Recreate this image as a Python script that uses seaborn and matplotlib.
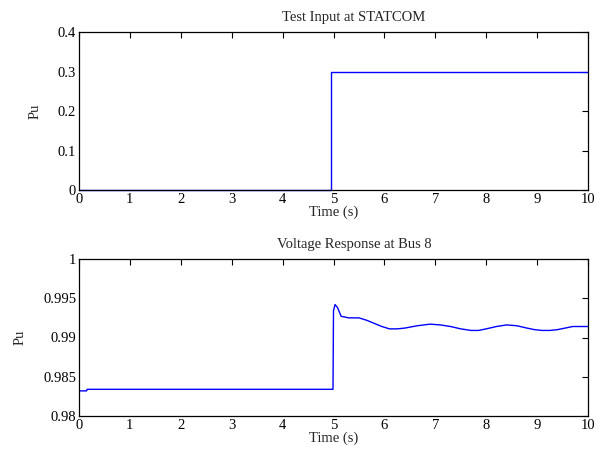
import numpy as np
import matplotlib
matplotlib.use("Agg")
import matplotlib.pyplot as plt
import pandas as pd
import seaborn as sns

# test input (step)
t_in = [0, 4.95, 4.95, 10]
pu_in = [0, 0, 0.3, 0.3]

# voltage response at bus 8
t_v = [0, 0.15, 0.16, 4.99, 5.0, 5.03, 5.08, 5.15, 5.3, 5.5, 5.65, 5.8, 5.95,
       6.1, 6.25, 6.4, 6.65, 6.9, 7.1, 7.3, 7.5, 7.7, 7.85, 8.0, 8.2, 8.4,
       8.6, 8.8, 8.95, 9.1, 9.25, 9.4, 9.55, 9.7, 9.85, 10]
pu_v = [0.9832, 0.9832, 0.9834, 0.9834, 0.9934, 0.9942, 0.9938, 0.9927, 0.9925,
        0.9925, 0.9922, 0.9918, 0.9914, 0.9911, 0.9911, 0.9912, 0.9915, 0.9917,
        0.9916, 0.9914, 0.9911, 0.9909, 0.9909, 0.9911, 0.9914, 0.9916, 0.9915,
        0.9912, 0.9910, 0.9909, 0.9909, 0.9910, 0.9912, 0.9914, 0.9914, 0.9914]

x_ticks = list(range(0, 11))
top_yticks = [0, 0.1, 0.2, 0.3, 0.4]
top_ylabels = ['0', '0.1', '0.2', '0.3', '0.4']
bot_yticks = [0.98, 0.985, 0.99, 0.995, 1.0]
bot_ylabels = ['0.98', '0.985', '0.99', '0.995', '1']

sns.set_style("white")
plt.rcParams['font.family'] = ['Liberation Serif', 'DejaVu Serif']
plt.rcParams['font.size'] = 10.5

fig = plt.figure(figsize=(6.1, 4.55), dpi=100)
ax1 = fig.add_axes([79/610, 1-190/455, 509/610, 158/455])
ax2 = fig.add_axes([79/610, 1-416/455, 509/610, 157/455])

df_in = pd.DataFrame({"t": t_in, "pu": pu_in})
df_v = pd.DataFrame({"t": t_v, "pu": pu_v})

sns.lineplot(data=df_in, x="t", y="pu", ax=ax1, color="#0000ff", lw=1.0,
             sort=False, estimator=None, clip_on=False)
sns.lineplot(data=df_v, x="t", y="pu", ax=ax2, color="#0000ff", lw=1.0,
             sort=False, estimator=None)

panels = [(ax1, "Test Input at STATCOM", (0, 0.4), top_yticks, top_ylabels),
          (ax2, "Voltage Response at Bus 8", (0.98, 1.0), bot_yticks, bot_ylabels)]
for ax, title, ylim, yt, yl in panels:
    ax.set_xlim(0, 10)
    ax.set_ylim(*ylim)
    ax.set_xticks(x_ticks)
    ax.set_yticks(yt)
    ax.set_yticklabels(yl)
    ax.tick_params(direction="in", top=True, right=True, length=4, width=0.8,
                   labelsize=10.5, colors="black", pad=2)
    for s in ax.spines.values():
        s.set_color("black")
        s.set_linewidth(0.9)
    ax.set_title(title, x=0.54, fontsize=10.5, pad=8)
    ax.set_xlabel("Time (s)", fontsize=10.5, labelpad=0)
    ax.set_ylabel("Pu", fontsize=10.5, labelpad=12)

plt.savefig("out.png", dpi=100)
plt.close()
